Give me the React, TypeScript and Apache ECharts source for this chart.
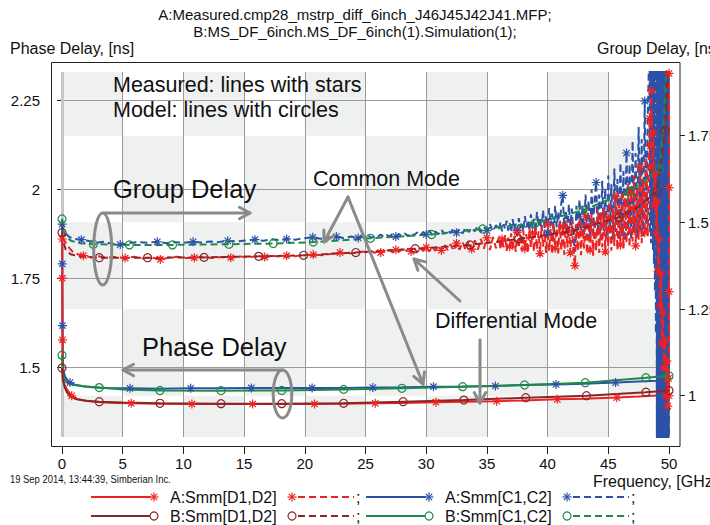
import React, { useEffect, useRef } from "react";
import * as echarts from "echarts";

// ---------- texts ----------
const TITLE_LINES = [
  "A:Measured.cmp28_mstrp_diff_6inch_J46J45J42J41.MFP;",
  "B:MS_DF_6inch.MS_DF_6inch(1).Simulation(1);",
];
const LEFT_AXIS_NAME = "Phase Delay, [ns]";
const RIGHT_AXIS_NAME = "Group Delay, [ns]";
const X_AXIS_NAME = "Frequency, [GHz]";
const FOOTNOTE = "19 Sep 2014, 13:44:39, Simberian Inc.";
const LEGEND_NAMES = ["A:Smm[D1,D2]", "A:Smm[C1,C2]", "B:Smm[D1,D2]", "B:Smm[C1,C2]"];

// ---------- axes ----------
const freqTicks = [0, 5, 10, 15, 20, 25, 30, 35, 40, 45, 50];
const phaseTicks = [1.5, 1.75, 2, 2.25];
const groupTicks = [1, 1.25, 1.5, 1.75];
const freqRange = [0, 50];
const phaseRange = [1.3044, 2.3286];
const groupRange = [0.8809, 1.9337];

// ---------- phase delay (left axis) ----------
const aDiffPhase = [
  [0.01, 1.86], [0.02, 1.75], [0.04, 1.577], [0.07, 1.5], [0.1, 1.468], [0.2, 1.452], [0.4, 1.438],
  [0.8, 1.42], [1.2, 1.412], [1.8, 1.407], [2.5, 1.404], [3.5, 1.401], [4.5, 1.4], [5.7, 1.399],
  [8, 1.398], [10.7, 1.397], [13, 1.397], [15.7, 1.397], [18, 1.397], [20.8, 1.397], [23, 1.398],
  [25.8, 1.399], [28, 1.4], [30.8, 1.402], [33, 1.403], [35.8, 1.405], [38, 1.407], [40.8, 1.41],
  [43, 1.412], [45.7, 1.415], [47.5, 1.418], [49, 1.421], [50, 1.424],
];
const aDiffPhaseStars = [0.01, 0.02, 0.04, 0.8, 5.7, 10.7, 15.7, 20.8, 25.8, 30.8, 35.8, 40.8, 45.7];

const bDiffPhase = [
  [0, 1.498], [0.05, 1.475], [0.1, 1.46], [0.2, 1.446], [0.4, 1.43], [0.7, 1.418], [1.2, 1.41],
  [2, 1.406], [3.07, 1.4035], [5, 1.401], [8.07, 1.399], [13.1, 1.398], [18.1, 1.398], [23.2, 1.399],
  [28.1, 1.4035], [33.1, 1.408], [38.2, 1.4147], [43.2, 1.4203], [48.1, 1.43], [50, 1.435],
];
const bDiffPhaseCircles = [0, 3.07, 8.07, 13.1, 18.1, 23.2, 28.1, 33.1, 38.2, 43.2, 48.1, 50];

const aCommPhase = [
  [0.01, 1.902], [0.02, 1.79], [0.04, 1.617], [0.07, 1.52], [0.12, 1.49], [0.25, 1.474], [0.45, 1.464],
  [0.66, 1.457], [1, 1.452], [1.7, 1.447], [2.5, 1.444], [3.5, 1.442], [5.6, 1.441], [8, 1.44],
  [10.6, 1.441], [13, 1.441], [15.6, 1.442], [18, 1.442], [20.6, 1.442], [23, 1.442], [25.6, 1.443],
  [28, 1.444], [30.6, 1.4456], [33, 1.446], [35.7, 1.4475], [38, 1.45], [40.7, 1.452], [43, 1.454],
  [45.6, 1.457], [47.5, 1.46], [49, 1.462], [50, 1.465],
];
const aCommPhaseStars = [0.01, 0.02, 0.04, 0.66, 5.6, 10.6, 15.6, 20.6, 25.6, 30.6, 35.7, 40.7, 45.6];

const bCommPhase = [
  [0, 1.534], [0.04, 1.5], [0.1, 1.478], [0.2, 1.466], [0.5, 1.455], [1, 1.45], [2, 1.446],
  [3.07, 1.443], [5, 1.438], [8.07, 1.435], [13.1, 1.4345], [18.1, 1.435], [23.2, 1.438], [28, 1.441],
  [33, 1.4456], [38.1, 1.4503], [43.1, 1.4568], [48.1, 1.4708], [50, 1.4765],
];
const bCommPhaseCircles = [0, 3.07, 8.07, 13.1, 18.1, 23.2, 28, 33, 38.1, 43.1, 48.1, 50];

// ---------- group delay (right axis) ----------
const aDiffGroup = [
  [0.01, 1.455], [0.2, 1.448], [0.5, 1.43], [0.9, 1.414], [1.3, 1.408], [1.76, 1.404], [2.4, 1.399],
  [3.0, 1.402], [3.6, 1.398], [4.4, 1.4], [5.2, 1.397], [5.9, 1.401], [6.6, 1.396], [7.3, 1.399],
  [8.1, 1.393], [8.8, 1.398], [9.5, 1.401], [10.2, 1.397], [10.9, 1.398], [11.6, 1.401], [12.3, 1.397],
  [13.1, 1.4], [13.9, 1.398], [14.6, 1.402], [15.3, 1.399], [16.0, 1.402], [16.7, 1.4], [17.4, 1.403],
  [18.0, 1.401], [18.5, 1.404], [19.2, 1.402], [19.9, 1.406], [20.7, 1.407], [21.4, 1.405], [22.1, 1.409],
  [22.9, 1.413], [23.6, 1.41], [24.3, 1.413],
  [24.75, 1.416], [25, 1.414], [25.25, 1.411], [25.5, 1.417], [25.75, 1.412], [26, 1.418], [26.25, 1.413],
  [26.5, 1.419], [26.75, 1.414], [27, 1.42], [27.25, 1.413], [27.5, 1.421], [27.75, 1.415], [28, 1.422],
  [28.25, 1.414], [28.5, 1.424], [28.75, 1.416], [29, 1.425], [29.25, 1.415], [29.5, 1.427], [29.75, 1.417],
  [30, 1.428], [30.25, 1.416], [30.5, 1.43], [30.75, 1.418], [31, 1.433], [31.25, 1.419], [31.5, 1.436],
  [31.75, 1.42], [32, 1.437], [32.25, 1.418], [32.5, 1.44], [32.75, 1.421], [33, 1.443], [33.25, 1.42],
  [33.5, 1.446], [33.75, 1.423], [34, 1.448], [34.25, 1.421], [34.5, 1.452], [34.75, 1.424], [35, 1.455],
  [35.25, 1.42], [35.5, 1.458], [35.75, 1.425],
  [36, 1.458], [36.125, 1.421], [36.25, 1.452], [36.375, 1.428], [36.5, 1.464], [36.625, 1.418],
  [36.75, 1.456], [36.875, 1.43], [37, 1.468], [37.125, 1.42], [37.25, 1.46], [37.375, 1.415],
  [37.5, 1.472], [37.625, 1.426], [37.75, 1.462], [37.875, 1.418], [38, 1.476], [38.125, 1.424],
  [38.25, 1.466], [38.375, 1.412], [38.5, 1.48], [38.625, 1.428], [38.75, 1.47], [38.875, 1.415],
  [39, 1.485], [39.125, 1.422], [39.25, 1.474], [39.375, 1.41], [39.5, 1.49], [39.625, 1.43],
  [39.75, 1.478], [39.875, 1.412], [40, 1.494], [40.125, 1.418], [40.25, 1.48], [40.375, 1.408],
  [40.5, 1.498], [40.625, 1.425], [40.75, 1.484], [40.875, 1.41], [41, 1.502], [41.125, 1.42],
  [41.25, 1.488], [41.375, 1.406], [41.5, 1.506], [41.625, 1.428], [41.75, 1.49], [41.875, 1.412],
  [42, 1.508], [42.125, 1.41], [42.25, 1.375], [42.375, 1.495], [42.5, 1.418], [42.625, 1.512],
  [42.75, 1.405], [42.875, 1.498], [43, 1.425], [43.125, 1.518], [43.25, 1.41], [43.375, 1.502],
  [43.5, 1.42], [43.625, 1.525], [43.75, 1.404], [43.875, 1.51], [44, 1.418], [44.125, 1.535],
  [44.25, 1.412], [44.375, 1.515], [44.5, 1.428], [44.625, 1.545], [44.75, 1.415], [44.875, 1.528],
  [45, 1.43], [45.125, 1.56], [45.25, 1.418], [45.375, 1.54], [45.5, 1.432], [45.625, 1.575],
  [45.75, 1.42], [45.875, 1.555], [46, 1.435], [46.125, 1.59], [46.25, 1.425], [46.375, 1.57],
  [46.5, 1.44], [46.625, 1.61], [46.75, 1.428], [46.875, 1.585], [47, 1.445], [47.125, 1.635],
  [47.25, 1.432], [47.375, 1.6], [47.5, 1.45], [47.625, 1.66], [47.75, 1.44], [47.875, 1.625],
  [48, 1.47], [48.125, 1.69], [48.25, 1.46],
  [48.4, 1.8], [48.48, 1.72], [48.55, 1.88], [48.62, 1.66], [48.7, 1.76], [48.78, 1.55], [48.86, 1.64],
  [48.94, 1.47], [49.02, 1.56], [49.1, 1.36], [49.18, 1.45], [49.26, 1.26], [49.34, 1.35], [49.42, 1.15],
  [49.5, 1.24], [49.58, 1.08], [49.66, 1.16], [49.74, 1.0], [49.82, 1.1], [49.9, 0.97], [49.96, 1.05],
  [50, 1.0], [50, 1.3], [50, 1.6], [50, 1.93],
];
const aDiffGroupStars = [
  1.76, 5.2, 8.1, 10.9, 13.9, 16.7, 18.5, 20.7, 22.9, 26.25, 27.5, 28.75, 30, 31.25, 32.5, 33.75, 35,
  36.25, 36.875, 37.5, 38.125, 38.75, 39.375, 40, 40.625, 41.25, 41.875, 42.25, 43.125, 43.5, 44.375,
  44.75, 45.625, 46, 46.875, 47.25, 47.625, 48, 48.4, 48.48, 48.55, 48.62, 48.7, 48.78, 48.86, 48.94,
  49.02, 49.1, 49.18, 49.26, 49.34, 49.42, 49.5, 49.58, 49.66, 49.74, 49.82, 49.9, 49.96, 50,
];

const bDiffGroup = [
  [0, 1.471], [0.1, 1.445], [0.3, 1.422], [0.7, 1.408], [1.5, 1.401], [3.07, 1.398], [7.05, 1.398],
  [11.7, 1.399], [16.2, 1.402], [19.9, 1.405], [24.2, 1.413], [29.1, 1.424], [33.6, 1.435], [37.6, 1.452],
  [41.9, 1.474], [45.9, 1.515], [47.5, 1.545], [49, 1.589], [49.7, 1.765], [50, 2.05],
];
const bDiffGroupCircles = [0, 3.07, 7.05, 11.7, 16.2, 19.9, 24.2, 29.1, 33.6, 37.6, 41.9, 45.9, 49, 49.7];

const aCommGroup = [
  [0.01, 1.496], [0.1, 1.478], [0.3, 1.468], [0.6, 1.458], [1.0, 1.452], [1.6, 1.45], [2.2, 1.446],
  [2.8, 1.441], [3.4, 1.444], [4.0, 1.439], [4.8, 1.436], [5.5, 1.44], [6.2, 1.443], [7.0, 1.441],
  [7.85, 1.444], [8.6, 1.44], [9.3, 1.443], [10.0, 1.441], [10.8, 1.444], [11.5, 1.442], [12.2, 1.445],
  [12.9, 1.443], [13.65, 1.447], [14.4, 1.445], [15.1, 1.448], [15.9, 1.45], [16.6, 1.447], [17.3, 1.451],
  [18.0, 1.449], [18.5, 1.452], [19.2, 1.45], [19.9, 1.454], [20.65, 1.457], [21.3, 1.453], [22.0, 1.457],
  [22.6, 1.459], [23.2, 1.455], [23.8, 1.459], [24.4, 1.455],
  [24.75, 1.46], [25, 1.457], [25.25, 1.462], [25.5, 1.455], [25.75, 1.461], [26, 1.458], [26.25, 1.465],
  [26.5, 1.457], [26.75, 1.463], [27, 1.46], [27.25, 1.467], [27.5, 1.459], [27.75, 1.466], [28, 1.461],
  [28.25, 1.468], [28.5, 1.46], [28.75, 1.469], [29, 1.463], [29.25, 1.471], [29.5, 1.462], [29.75, 1.472],
  [30, 1.465], [30.25, 1.476], [30.5, 1.463], [30.75, 1.474], [31, 1.466], [31.25, 1.479], [31.5, 1.467],
  [31.75, 1.477], [32, 1.469], [32.25, 1.483], [32.5, 1.47], [32.75, 1.481], [33, 1.468], [33.25, 1.486],
  [33.5, 1.472], [33.75, 1.484], [34, 1.474], [34.25, 1.49], [34.5, 1.473], [34.75, 1.488], [35, 1.476],
  [35.25, 1.495], [35.5, 1.474], [35.75, 1.492],
  [36, 1.478], [36.125, 1.501], [36.25, 1.474], [36.375, 1.495], [36.5, 1.481], [36.625, 1.505],
  [36.75, 1.476], [36.875, 1.498], [37, 1.472], [37.125, 1.509], [37.25, 1.48], [37.375, 1.496],
  [37.5, 1.477], [37.625, 1.512], [37.75, 1.483], [37.875, 1.502], [38, 1.474], [38.125, 1.518],
  [38.25, 1.485], [38.375, 1.507], [38.5, 1.476], [38.625, 1.523], [38.75, 1.482], [38.875, 1.51],
  [39, 1.471], [39.125, 1.53], [39.25, 1.488], [39.375, 1.515], [39.5, 1.475], [39.625, 1.535],
  [39.75, 1.484], [39.875, 1.52], [40, 1.47], [40.125, 1.541], [40.25, 1.49], [40.375, 1.525],
  [40.5, 1.468], [40.625, 1.548], [40.75, 1.486], [40.875, 1.53], [41, 1.475], [41.125, 1.556],
  [41.25, 1.578], [41.375, 1.48], [41.5, 1.535], [41.625, 1.466], [41.75, 1.552], [41.875, 1.49],
  [42, 1.54], [42.125, 1.46], [42.25, 1.415], [42.375, 1.548], [42.5, 1.472], [42.625, 1.566],
  [42.75, 1.478], [42.875, 1.55], [43, 1.465], [43.125, 1.58], [43.25, 1.482], [43.375, 1.562],
  [43.5, 1.458], [43.625, 1.595], [43.75, 1.47], [43.875, 1.57], [44, 1.615], [44.125, 1.462],
  [44.25, 1.58], [44.375, 1.455], [44.5, 1.62], [44.625, 1.475], [44.75, 1.598], [44.875, 1.452],
  [45, 1.635], [45.125, 1.468], [45.25, 1.61], [45.375, 1.45], [45.5, 1.655], [45.625, 1.472],
  [45.75, 1.625], [45.875, 1.448], [46, 1.672], [46.125, 1.46], [46.25, 1.648], [46.375, 1.445],
  [46.5, 1.7], [46.625, 1.462], [46.75, 1.668], [46.875, 1.45], [47, 1.735], [47.125, 1.47],
  [47.25, 1.7], [47.375, 1.455], [47.5, 1.775], [47.625, 1.468], [47.75, 1.74], [47.875, 1.46],
  [48, 1.85], [48.125, 1.475], [48.25, 1.8],
  [48.4, 2.05], [48.44, 1.47], [48.48, 2.05], [48.52, 1.44], [48.56, 2.05], [48.6, 1.5], [48.64, 2.05],
  [48.68, 1.42], [48.72, 2.05], [48.76, 1.38], [48.8, 2.05], [48.84, 1.3], [48.88, 2.05], [48.92, 1.18],
  [48.96, 2.05],
  [49, 0.85], [49.025, 2.05], [49.05, 0.85], [49.075, 2.05], [49.1, 0.85], [49.125, 2.05], [49.15, 0.85],
  [49.175, 2.05], [49.2, 0.85], [49.225, 2.05], [49.25, 0.85], [49.275, 2.05], [49.3, 0.85], [49.325, 2.05],
  [49.35, 0.85], [49.375, 2.05], [49.4, 0.85], [49.425, 2.05], [49.45, 0.85], [49.475, 2.05], [49.5, 0.85],
  [49.525, 2.05], [49.55, 0.85], [49.575, 2.05], [49.6, 0.85], [49.625, 2.05], [49.65, 0.85], [49.675, 2.05],
  [49.7, 0.85], [49.725, 2.05], [49.75, 0.85], [49.775, 2.05], [49.8, 0.85], [49.825, 2.05], [49.85, 0.85],
  [49.875, 2.05], [49.9, 0.85], [49.925, 2.05], [49.95, 0.85], [49.975, 2.05], [50, 0.85],
];
const aCommGroupStars = [
  1.6, 4.8, 7.85, 10.8, 13.65, 15.9, 18.5, 20.65, 22.6, 24.4, 27.5, 30, 32.5, 35, 37.5, 40, 41.25, 44, 46.5, 48,
];

const bCommGroup = [
  [0, 1.51], [0.1, 1.478], [0.3, 1.458], [0.8, 1.446], [1.5, 1.44], [2.58, 1.437], [5.55, 1.435],
  [9.1, 1.435], [13.75, 1.437], [17.4, 1.439], [20.7, 1.443], [25.4, 1.454], [30.45, 1.465], [34.65, 1.481],
  [38.95, 1.497], [42.9, 1.535], [46.8, 1.59], [49.2, 1.654], [49.5, 1.76], [49.85, 1.97],
];
const bCommGroupCircles = [0, 2.58, 5.55, 9.1, 13.75, 17.4, 20.7, 25.4, 30.45, 34.65, 38.95, 42.9, 46.8, 49.2];

// ---------- styles ----------
const FONT = "'Liberation Sans', Arial, Helvetica, sans-serif";
const RED = "#ee2222";
const DARKRED = "#8b2626";
const BLUE = "#2b52a8";
const GREEN = "#1f8a45";
const ANNOT = "#8a8a8a";
const GRIDLINE = "#9a9a9a";
const SHADE = "#eff0f0";
const STAR = "path://M5 0L5 10M0 5L10 5M1.46 1.46L8.54 8.54M1.46 8.54L8.54 1.46";
const DASH = [7, 4];

function makeLine(name, data, yAxisIndex, color, dashed, marker, marks) {
  const set = new Set(marks);
  const isStar = marker === "star";
  return {
    type: "line",
    name,
    data,
    xAxisIndex: 0,
    yAxisIndex,
    showSymbol: true,
    showAllSymbol: true,
    symbol: (value) => (set.has(value[0]) ? (isStar ? STAR : "circle") : "none"),
    symbolSize: isStar ? 9 : 8,
    lineStyle: { color, width: 2, type: dashed ? DASH : "solid" },
    itemStyle: {
      color: isStar ? color : "rgba(0,0,0,0)",
      borderColor: color,
      borderWidth: 1.2,
    },
    emphasis: { disabled: true },
    silent: true,
    clip: true,
    z: 2,
  };
}

function arrow(x1, y1, x2, y2) {
  const ang = Math.atan2(y2 - y1, x2 - x1);
  const L = 12;
  const s = 0.5;
  const p1 = [x2 - L * Math.cos(ang - s), y2 - L * Math.sin(ang - s)];
  const p2 = [x2 - L * Math.cos(ang + s), y2 - L * Math.sin(ang + s)];
  const style = { stroke: ANNOT, lineWidth: 3, fill: "none", lineCap: "round", lineJoin: "round" };
  return [
    { type: "line", z: 20, shape: { x1, y1, x2, y2 }, style },
    { type: "polyline", z: 20, shape: { points: [p1, [x2, y2], p2] }, style },
  ];
}

function text(x, y, t, size, opts = {}) {
  return {
    type: "text",
    z: 20,
    x,
    y,
    scaleX: opts.scaleX || 1,
    style: {
      text: t,
      fontSize: size,
      fontFamily: opts.family || FONT,
      fill: opts.color || "#111",
      align: opts.align || "left",
      verticalAlign: "middle",
    },
  };
}

function starMark(cx, cy, color) {
  const r = 4.5;
  const d = r * 0.7071;
  const st = { stroke: color, lineWidth: 1.2 };
  return {
    type: "group",
    z: 20,
    children: [
      { type: "line", shape: { x1: cx, y1: cy - r, x2: cx, y2: cy + r }, style: st },
      { type: "line", shape: { x1: cx - r, y1: cy, x2: cx + r, y2: cy }, style: st },
      { type: "line", shape: { x1: cx - d, y1: cy - d, x2: cx + d, y2: cy + d }, style: st },
      { type: "line", shape: { x1: cx - d, y1: cy + d, x2: cx + d, y2: cy - d }, style: st },
    ],
  };
}

function circleMark(cx, cy, color) {
  return { type: "circle", z: 20, shape: { cx, cy, r: 4 }, style: { fill: "#fff", stroke: color, lineWidth: 1.2 } };
}

function legendItem(x0, y, name, color, marker) {
  const mk = marker === "star" ? starMark : circleMark;
  return [
    { type: "line", z: 20, shape: { x1: x0, y1: y, x2: x0 + 60, y2: y }, style: { stroke: color, lineWidth: 2 } },
    mk(x0 + 63, y, color),
    text(x0 + 79, y, name, 16),
    mk(x0 + 201, y, color),
    {
      type: "line",
      z: 20,
      shape: { x1: x0 + 207, y1: y, x2: x0 + 263, y2: y },
      style: { stroke: color, lineWidth: 2, lineDash: DASH },
    },
    text(x0 + 265, y, ";", 16),
  ];
}

function buildOption() {
  // checkerboard background cells (right-axis rows x frequency columns)
  const rowEdges = [groupRange[1], ...groupTicks.slice().reverse(), groupRange[0]];
  const cells = [];
  for (let r = 0; r < rowEdges.length - 1; r++) {
    for (let c = 0; c < freqTicks.length - 1; c++) {
      if ((r + c) % 2 === 0) cells.push([freqTicks[c], freqTicks[c + 1], rowEdges[r + 1], rowEdges[r]]);
    }
  }

  const graphics = [
    {
      type: "rect",
      z: 19,
      shape: { x: 51.5, y: 62.5, width: 628.5, height: 384 },
      style: { fill: "none", stroke: "#222", lineWidth: 1 },
    },
    text(355, 14, TITLE_LINES[0], 15, { align: "center" }),
    text(355, 31, TITLE_LINES[1], 15, { align: "center" }),
    text(10, 48, LEFT_AXIS_NAME, 16),
    text(597, 48, RIGHT_AXIS_NAME, 16),
    text(593, 481, X_AXIS_NAME, 16),
    text(10, 479, FOOTNOTE, 11.5, { scaleX: 0.82 }),
    text(113, 85, "Measured: lines with stars", 21.5),
    text(113, 110, "Model: lines with circles", 21.5),
    text(113, 189, "Group Delay", 25.5),
    text(142, 347, "Phase Delay", 25.5),
    text(313, 179, "Common Mode", 21.5),
    text(435, 321, "Differential Mode", 21.5),
    { type: "ellipse", z: 20, shape: { cx: 102.7, cy: 249, rx: 9, ry: 36 }, style: { fill: "none", stroke: ANNOT, lineWidth: 3 } },
    { type: "ellipse", z: 20, shape: { cx: 282.5, cy: 394, rx: 9.3, ry: 24 }, style: { fill: "none", stroke: ANNOT, lineWidth: 3 } },
    ...arrow(103, 213, 250, 213),
    ...arrow(283, 370, 123, 370),
    ...arrow(348, 197, 324, 242),
    ...arrow(348, 197, 423, 384),
    ...arrow(460, 301, 414, 259),
    ...arrow(480, 340, 480, 403),
    ...legendItem(91, 497, LEGEND_NAMES[0], RED, "star"),
    ...legendItem(366, 497, LEGEND_NAMES[1], BLUE, "star"),
    ...legendItem(91, 516, LEGEND_NAMES[2], DARKRED, "circle"),
    ...legendItem(366, 516, LEGEND_NAMES[3], GREEN, "circle"),
  ];

  const labelStyle = { fontSize: 15, color: "#111", fontFamily: FONT };

  const blueMeasuredPhase = makeLine("A:Smm[C1,C2] phase", aCommPhase, 0, BLUE, false, "star", aCommPhaseStars);
  blueMeasuredPhase.markLine = {
    silent: true,
    z: 1,
    symbol: ["none", "none"],
    label: { show: false },
    emphasis: { disabled: true },
    lineStyle: { color: "#c6c6c6", width: 3, type: "solid" },
    data: [{ xAxis: freqTicks[0] }],
  };

  return {
    animation: false,
    backgroundColor: "#fff",
    grid: { left: 62, right: 41, top: 72, bottom: 88, containLabel: false, outerBoundsMode: "none" },
    xAxis: {
      type: "value",
      min: freqRange[0],
      max: freqRange[1],
      interval: 5,
      offset: 10,
      axisLine: { show: false },
      axisTick: { show: true, length: 7, lineStyle: { color: "#222" } },
      axisLabel: { ...labelStyle, margin: 9 },
      splitLine: { show: true, lineStyle: { color: GRIDLINE, width: 1 } },
    },
    yAxis: [
      {
        type: "value",
        position: "left",
        min: phaseRange[0],
        max: phaseRange[1],
        offset: 10,
        axisLine: { show: false },
        axisTick: { show: true, length: 5, customValues: phaseTicks, lineStyle: { color: "#222" } },
        axisLabel: { ...labelStyle, margin: 12, customValues: phaseTicks },
        splitLine: { show: true, lineStyle: { color: GRIDLINE, width: 1 } },
      },
      {
        type: "value",
        position: "right",
        min: groupRange[0],
        max: groupRange[1],
        offset: 11,
        axisLine: { show: false },
        axisTick: { show: true, length: 5, customValues: groupTicks, lineStyle: { color: "#222" } },
        axisLabel: { ...labelStyle, margin: 8, customValues: groupTicks },
        splitLine: { show: false },
      },
    ],
    graphic: { elements: graphics },
    series: [
      {
        type: "custom",
        xAxisIndex: 0,
        yAxisIndex: 1,
        z: -1,
        silent: true,
        dimensions: ["x0", "x1", "y0", "y1"],
        encode: { x: [0, 1], y: [2, 3] },
        data: cells,
        renderItem: (params, api) => {
          const a = api.coord([api.value(0), api.value(3)]);
          const b = api.coord([api.value(1), api.value(2)]);
          return {
            type: "rect",
            shape: { x: a[0], y: a[1], width: b[0] - a[0], height: b[1] - a[1] },
            style: { fill: SHADE },
          };
        },
      },
      blueMeasuredPhase,
      makeLine("A:Smm[D1,D2] phase", aDiffPhase, 0, RED, false, "star", aDiffPhaseStars),
      makeLine("A:Smm[C1,C2] group", aCommGroup, 1, BLUE, true, "star", aCommGroupStars),
      makeLine("A:Smm[D1,D2] group", aDiffGroup, 1, RED, true, "star", aDiffGroupStars),
      makeLine("B:Smm[C1,C2] phase", bCommPhase, 0, GREEN, false, "circle", bCommPhaseCircles),
      makeLine("B:Smm[D1,D2] phase", bDiffPhase, 0, DARKRED, false, "circle", bDiffPhaseCircles),
      makeLine("B:Smm[C1,C2] group", bCommGroup, 1, GREEN, true, "circle", bCommGroupCircles),
      makeLine("B:Smm[D1,D2] group", bDiffGroup, 1, DARKRED, true, "circle", bDiffGroupCircles),
    ],
  };
}

export default function App() {
  const ref = useRef<HTMLDivElement>(null);
  useEffect(() => {
    const chart = echarts.init(ref.current!, null, { renderer: "svg" });
    chart.setOption(buildOption() as any);
    return () => chart.dispose();
  }, []);
  return (
    <div
      ref={ref}
      style={{ position: "absolute", left: 0, top: 0, width: 710, height: 525, background: "#fff" }}
    />
  );
}
